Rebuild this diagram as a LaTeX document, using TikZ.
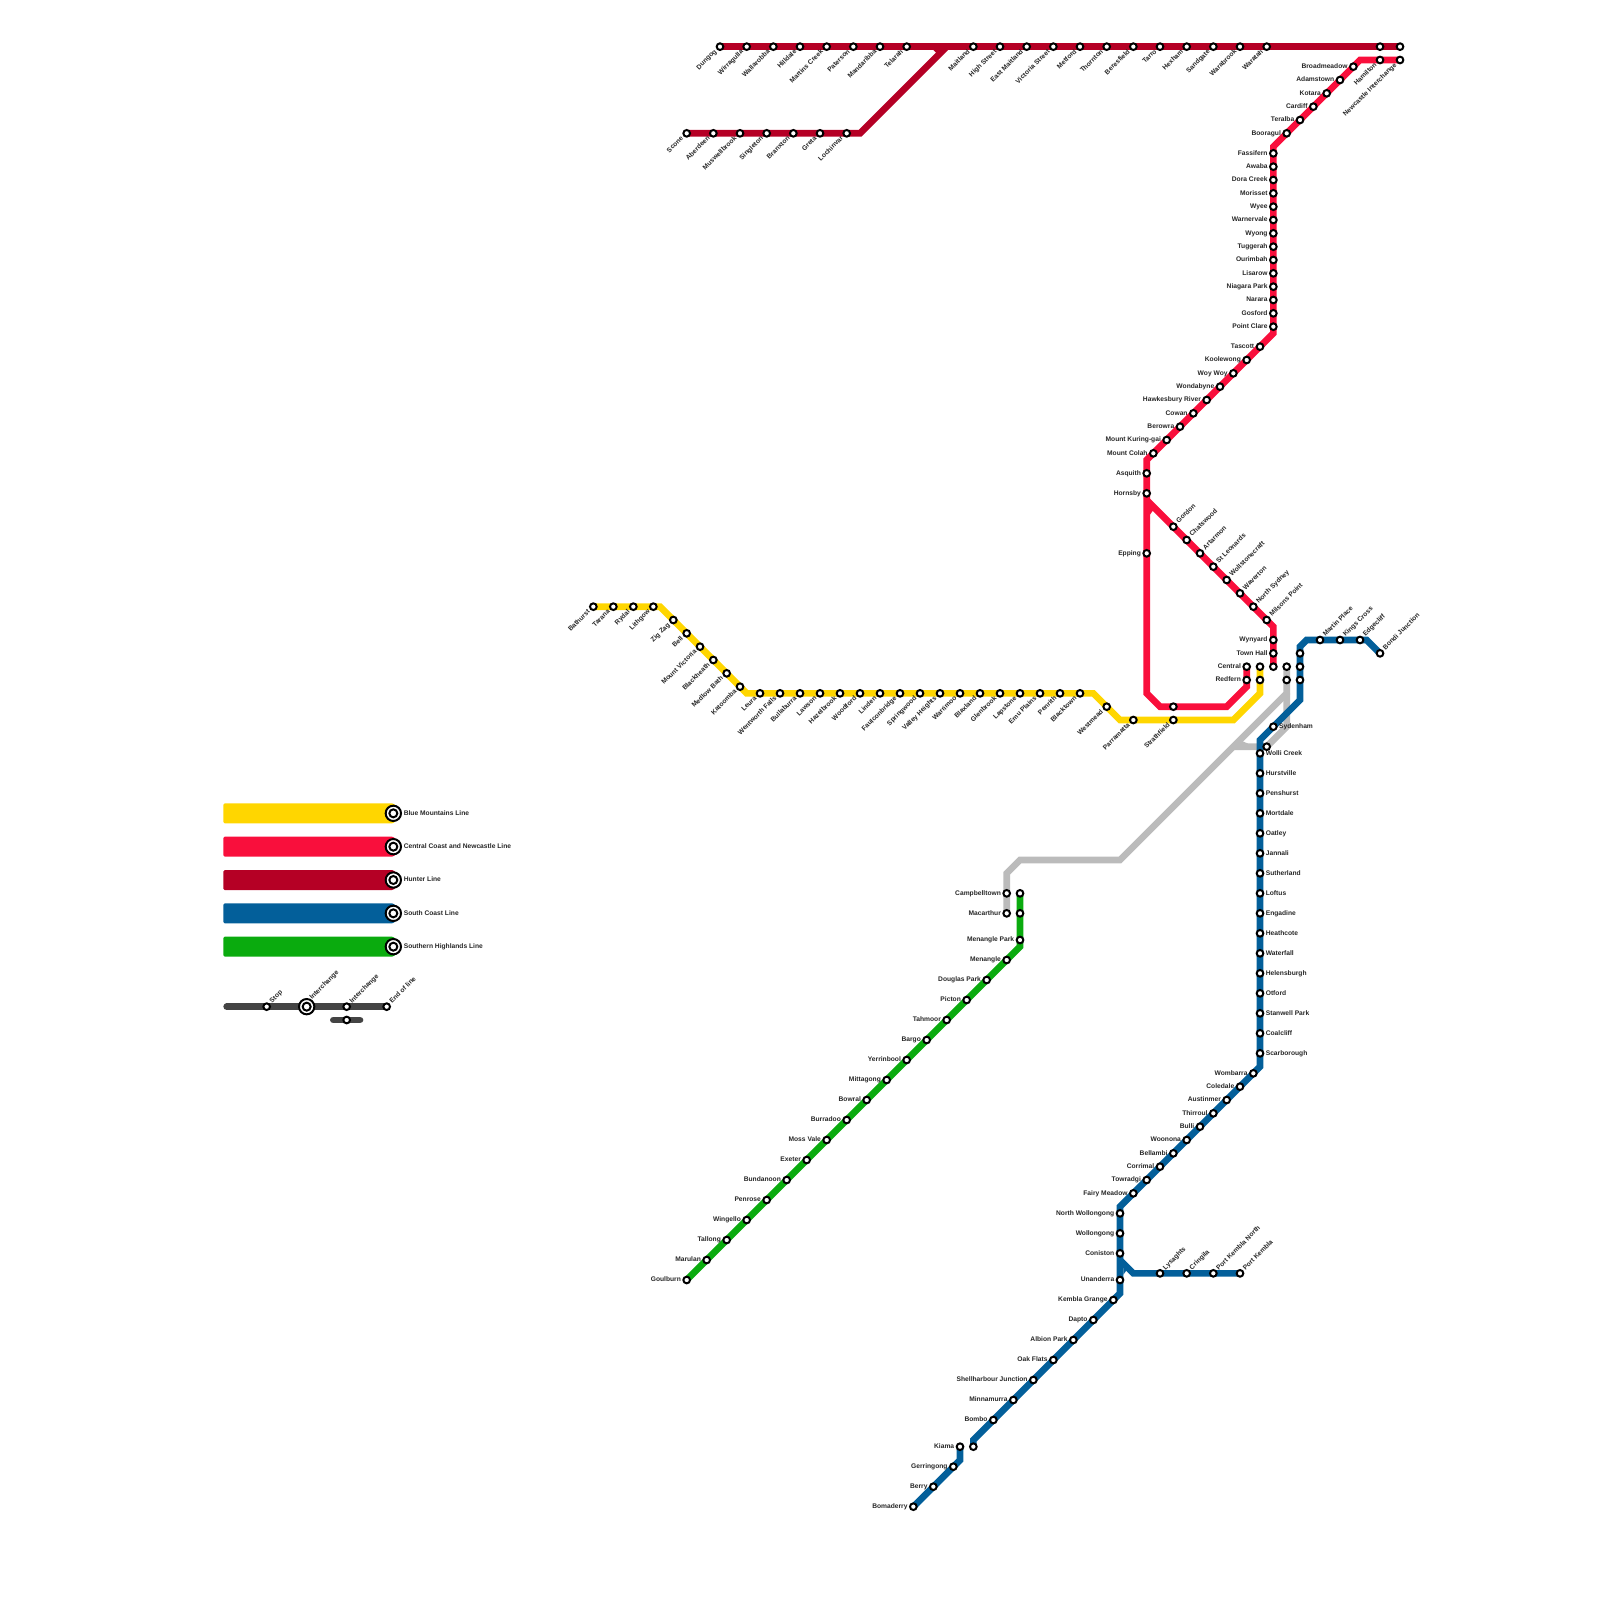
\documentclass[tikz,border=0pt]{standalone}
\usepackage{fontspec}
\setmainfont{Liberation Sans}
\usepackage{xcolor}
\definecolor{amarelo}{RGB}{255,214,0}
\definecolor{vermelho}{RGB}{249,15,60}
\definecolor{carmim}{RGB}{181,0,37}
\definecolor{azul}{RGB}{3,95,154}
\definecolor{verde}{RGB}{10,171,14}
\definecolor{cinza}{RGB}{187,187,187}
\definecolor{escuro}{RGB}{68,68,68}
\usetikzlibrary{backgrounds}

\begin{document}
\begin{tikzpicture}[
    x=0.2cm, y=-0.2cm,
    stop/.style={circle, draw=black, fill=white, line width=0.03cm,
                 minimum size=0.1cm, inner sep=0pt},
    bigstop/.style={circle, draw=black, fill=white, line width=0.03cm,
                    minimum size=0.23cm, inner sep=0pt},
    midstop/.style={circle, draw=black, fill=white, line width=0.03cm,
                    minimum size=0.12cm, inner sep=0pt},
    lbl/.style={font=\fontsize{2.85}{3.3}\selectfont\bfseries, text=black!85,
                inner sep=0pt, text height=2pt, text depth=0.55pt},
    lblw/.style={lbl, anchor=east, xshift=-0.08cm},
    lble/.style={lbl, anchor=west, xshift=0.08cm},
    lblsw/.style={lbl, anchor=east, xshift=-0.06cm, yshift=-0.06cm, rotate=45},
    lblne/.style={lbl, anchor=west, xshift=0.06cm, yshift=0.06cm, rotate=45},
    lblleg/.style={lbl, anchor=west, xshift=0.15cm},
    linha/.style={line width=0.1cm},
    sample/.style={linha, escuro, line cap=round}
  ]

  \useasboundingbox (0,0) rectangle (120,120);

  % Hunter
  \foreach \n/\x/\t in {dungog/54/Dungog, wirragulla/56/Wirragulla, wallarobba/58/Wallarobba,
      hilldale/60/Hilldale, martins/62/Martins Creek, paterson/64/Paterson,
      mandaribba/66/Mandaribba, telarah/68/Telarah, maitland/73/Maitland,
      highst/75/High Street, eastmaitland/77/East Maitland, victoriast/79/Victoria Street,
      metford/81/Metford, thornton/83/Thornton, beresfield/85/Beresfield, tarro/87/Tarro,
      hexham/89/Hexham, sandgate/91/Sandgate, warabrook/93/Warabrook, waratah/95/Waratah} {
    \node[stop] (\n) at (\x,3.5) {};
    \node[lblsw] (\n-l) at (\n) {\t};
  }
  \foreach \n/\x/\t in {scone/51.5/Scone, aberdeen/53.5/Aberdeen, muswellbrook/55.5/Muswellbrook,
      singleton/57.5/Singleton, branxton/59.5/Branxton, greta/61.5/Greta,
      lochinvar/63.5/Lochinvar} {
    \node[stop] (\n) at (\x,10) {};
    \node[lblsw] (\n-l) at (\n) {\t};
  }
  \node[stop] (hamiltonh) at (103.5,3.5) {};
  \node[stop] (newcastleh) at (105,3.5) {};
  \coordinate (hbend) at (64.5,10);
  \coordinate (hjoin) at (71,3.5);

  % Central Coast and Newcastle
  \node[stop] (hamilton) at (103.5,4.5) {};
  \node[lblsw] (hamilton-l) at (hamilton) {Hamilton};
  \node[stop] (newcastle) at (105,4.5) {};
  \node[lblsw] (newcastle-l) at (newcastle) {Newcastle Interchange};
  \foreach \n/\x/\y/\t in {broadmeadow/101.5/5/Broadmeadow, adamstown/100.5/6/Adamstown,
      kotara/99.5/7/Kotara, cardiff/98.5/8/Cardiff, teralba/97.5/9/Teralba, booragul/96.5/10/Booragul,
      fassifern/95.5/11.5/Fassifern, awaba/95.5/12.5/Awaba, doracreek/95.5/13.5/Dora Creek,
      morisset/95.5/14.5/Morisset, wyee/95.5/15.5/Wyee, warnervale/95.5/16.5/Warnervale,
      wyong/95.5/17.5/Wyong, tuggerah/95.5/18.5/Tuggerah, ourimbah/95.5/19.5/Ourimbah,
      lisarow/95.5/20.5/Lisarow, niagara/95.5/21.5/Niagara Park, narara/95.5/22.5/Narara,
      gosford/95.5/23.5/Gosford, pointclare/95.5/24.5/Point Clare, tascott/94.5/26/Tascott,
      koolewong/93.5/27/Koolewong, woywoy/92.5/28/Woy Woy, wondabyne/91.5/29/Wondabyne,
      hawkesbury/90.5/30/Hawkesbury River, cowan/89.5/31/Cowan, berowra/88.5/32/Berowra,
      kuringgai/87.5/33/Mount Kuring-gai, colah/86.5/34/Mount Colah, asquith/86/35.5/Asquith,
      hornsby/86/37/Hornsby, epping/86/41.5/Epping, wynyard/95.5/48/Wynyard,
      townhall/95.5/49/Town Hall, central/93.5/50/Central, redfern/93.5/51/Redfern} {
    \node[stop] (\n) at (\x,\y) {};
    \node[lblw] (\n-l) at (\n) {\t};
  }
  \foreach \n/\x/\y/\t in {gordon/88/39.5/Gordon, chatswood/89/40.5/Chatswood, artarmon/90/41.5/Artarmon,
      stleonards/91/42.5/St Leonards, wollstonecraft/92/43.5/Wollstonecraft, waverton/93/44.5/Waverton,
      northsydney/94/45.5/North Sydney, milsons/95/46.5/Milsons Point} {
    \node[stop] (\n) at (\x,\y) {};
    \node[lblne] (\n-l) at (\n) {\t};
  }
  \node[stop] (sydney) at (95.5,50) {};
  \node[stop] (strathr) at (88,53) {};
  \coordinate (rbend1) at (102,4.5);
  \coordinate (rbend2) at (95.5,11);
  \coordinate (rbend3) at (95.5,25);
  \coordinate (rbend4) at (86,34.5);
  \coordinate (rbend5) at (86,52);
  \coordinate (rbend6) at (87,53);
  \coordinate (rbend7) at (92,53);
  \coordinate (rbend8) at (93.5,51.5);
  \coordinate (rjoin) at (86,37.5);
  \coordinate (rbend9) at (95.5,47);

  % Blue Mountains
  \foreach \n/\x/\y/\t in {bathurst/44.5/45.5/Bathurst, tarana/46/45.5/Tarana, rydal/47.5/45.5/Rydal,
      lithgow/49/45.5/Lithgow, zigzag/50.5/46.5/Zig Zag, bell/51.5/47.5/Bell,
      mtvictoria/52.5/48.5/Mount Victoria, blackheath/53.5/49.5/Blackheath,
      medlow/54.5/50.5/Medlow Bath, katoomba/55.5/51.5/Katoomba, leura/57/52/Leura,
      wentworth/58.5/52/Wentworth Falls, bullaburra/60/52/Bullaburra, lawson/61.5/52/Lawson,
      hazelbrook/63/52/Hazelbrook, woodford/64.5/52/Woodford, linden/66/52/Linden,
      faulconbridge/67.5/52/Faulconbridge, springwood/69/52/Springwood,
      valley/70.5/52/Valley Heights, warrimoo/72/52/Warrimoo, blaxland/73.5/52/Blaxland,
      glenbrook/75/52/Glenbrook, lapstone/76.5/52/Lapstone, emuplains/78/52/Emu Plains,
      penrith/79.5/52/Penrith, blacktown/81/52/Blacktown, westmead/83/53/Westmead,
      parramatta/85/54/Parramatta, strathfield/88/54/Strathfield} {
    \node[stop] (\n) at (\x,\y) {};
    \node[lblsw] (\n-l) at (\n) {\t};
  }
  \node[stop] (centraly) at (94.5,50) {};
  \node[stop] (redferny) at (94.5,51) {};
  \coordinate (ybend1) at (49.5,45.5);
  \coordinate (ybend2) at (56,52);
  \coordinate (ybend3) at (82,52);
  \coordinate (ybend4) at (84,54);
  \coordinate (ybend5) at (92.5,54);
  \coordinate (ybend6) at (94.5,52);

  % South Coast
  \foreach \n/\x/\y/\t in {sydenham/95.5/54.5/Sydenham, wolli/94.5/56.5/Wolli Creek, hurstville/94.5/58/Hurstville,
      penshurst/94.5/59.5/Penshurst, mortdale/94.5/61/Mortdale, oatley/94.5/62.5/Oatley,
      jannali/94.5/64/Jannali, sutherland/94.5/65.5/Sutherland, loftus/94.5/67/Loftus,
      engadine/94.5/68.5/Engadine, heathcote/94.5/70/Heathcote, waterfall/94.5/71.5/Waterfall,
      helensburgh/94.5/73/Helensburgh, otford/94.5/74.5/Otford, stanwell/94.5/76/Stanwell Park,
      coalcliff/94.5/77.5/Coalcliff, scarborough/94.5/79/Scarborough} {
    \node[stop] (\n) at (\x,\y) {};
    \node[lble] (\n-l) at (\n) {\t};
  }
  \foreach \n/\x/\y/\t in {wombarra/94/80.5/Wombarra, coledale/93/81.5/Coledale, austinmer/92/82.5/Austinmer,
      thirroul/91/83.5/Thirroul, bulli/90/84.5/Bulli, woonona/89/85.5/Woonona, bellambi/88/86.5/Bellambi,
      corrimal/87/87.5/Corrimal, towradgi/86/88.5/Towradgi, fairy/85/89.5/Fairy Meadow,
      nwollongong/84/91/North Wollongong, wollongong/84/92.5/Wollongong, coniston/84/94/Coniston,
      unanderra/84/96/Unanderra, kembla/83.5/97.5/Kembla Grange, dapto/82/99/Dapto,
      albion/80.5/100.5/Albion Park, oakflats/79/102/Oak Flats, shellharbour/77.5/103.5/Shellharbour Junction,
      minnamurra/76/105/Minnamurra, bombo/74.5/106.5/Bombo, kiama/72/108.5/Kiama,
      gerringong/71.5/110/Gerringong, berry/70/111.5/Berry, bomaderry/68.5/113/Bomaderry} {
    \node[stop] (\n) at (\x,\y) {};
    \node[lblw] (\n-l) at (\n) {\t};
  }
  \foreach \n/\x/\y/\t in {lysaghts/87/95.5/Lysaghts, cringila/89/95.5/Cringila, pkn/91/95.5/Port Kembla North,
      portkembla/93/95.5/Port Kembla, martin/99/48/Martin Place, kings/100.5/48/Kings Cross,
      edgecliff/102/48/Edgecliff, bondi/103.5/49/Bondi Junction} {
    \node[stop] (\n) at (\x,\y) {};
    \node[lblne] (\n-l) at (\n) {\t};
  }
  \node[stop] (stjames) at (97.5,49) {};
  \node[stop] (museum) at (97.5,50) {};
  \node[stop] (redfernb) at (97.5,51) {};
  \node[stop] (kiamab) at (73,108.5) {};
  \coordinate (bbend1) at (102.5,48);
  \coordinate (bbend2) at (98,48);
  \coordinate (bbend3) at (97.5,48.5);
  \coordinate (bbend4) at (97.5,52.5);
  \coordinate (bbend5) at (94.5,55.5);
  \coordinate (bbend6) at (94.5,80);
  \coordinate (bbend7) at (84,90.5);
  \coordinate (bbend8) at (84,97);
  \coordinate (bbend9) at (73,108);
  \coordinate (bbend10) at (72,109.5);
  \coordinate (bjoin) at (84,94.5);
  \coordinate (bbend11) at (85,95.5);

  % Southern Highlands
  \foreach \n/\x/\y/\t in {campbelltown/75.5/67/Campbelltown, macarthur/75.5/68.5/Macarthur,
      menanglepk/76.5/70.5/Menangle Park, menangle/75.5/72/Menangle, douglas/74/73.5/Douglas Park,
      picton/72.5/75/Picton, tahmoor/71/76.5/Tahmoor, bargo/69.5/78/Bargo, yerrinbool/68/79.5/Yerrinbool,
      mittagong/66.5/81/Mittagong, bowral/65/82.5/Bowral, burradoo/63.5/84/Burradoo,
      mossvale/62/85.5/Moss Vale, exeter/60.5/87/Exeter, bundanoon/59/88.5/Bundanoon,
      penrose/57.5/90/Penrose, wingello/56/91.5/Wingello, tallong/54.5/93/Tallong,
      marulan/53/94.5/Marulan, goulburn/51.5/96/Goulburn} {
    \node[stop] (\n) at (\x,\y) {};
    \node[lblw] (\n-l) at (\n) {\t};
  }
  \node[stop] (campbellg) at (76.5,67) {};
  \node[stop] (macarthurg) at (76.5,68.5) {};
  \coordinate (gbend) at (76.5,71);

  % grey
  \node[stop] (centralc) at (96.5,50) {};
  \node[stop] (redfernc) at (96.5,51) {};
  \node[stop] (turrella) at (95,56) {};
  \coordinate (cbend1) at (75.5,65.5);
  \coordinate (cbend2) at (76.5,64.5);
  \coordinate (cbend3) at (84,64.5);
  \coordinate (cbend4) at (96.5,52);
  \coordinate (cbend5) at (96.5,54.5);
  \coordinate (cjoin) at (92.5,56);
  \coordinate (cstub1) at (92.8,55.7);
  \coordinate (cstub2) at (93.5,56);

  % legend
  \foreach \n/\y/\c/\t in {leg1/61/amarelo/Blue Mountains Line, leg2/63.5/vermelho/Central Coast and Newcastle Line,
      leg3/66/carmim/Hunter Line, leg4/68.5/azul/South Coast Line, leg5/71/verde/Southern Highlands Line} {
    \fill[\c, rounded corners=0.6pt] (16.75,\y-0.75) -- (29.5,\y-0.75) -- (29.85,\y-0.4) -- (29.85,\y+0.4)
      -- (29.5,\y+0.75) -- (16.75,\y+0.75) -- cycle;
    \node[bigstop] (\n) at (29.5,\y) {};
    \node[midstop] (\n-i) at (\n) {};
    \node[lblleg] (\n-l) at (\n) {\t};
  }

  \node[stop] (sstop) at (20,75.5) {};
  \node[lblne] (sstop-l) at (sstop) {Stop};
  \node[bigstop] (sint) at (23,75.5) {};
  \node[midstop] (sint-i) at (sint) {};
  \node[lblne, xshift=0.04cm, yshift=0.04cm] (sint-l) at (sint) {Interchange};
  \node[stop] (sint2) at (26,75.5) {};
  \node[lblne] (sint2-l) at (sint2) {Interchange};
  \node[stop] (send) at (29,75.5) {};
  \node[lblne] (send-l) at (send) {End of line};
  \node[stop] (sint3) at (26,76.5) {};
  \coordinate (sstart) at (17,75.5);
  \coordinate (sleft) at (25,76.5);
  \coordinate (sright) at (27,76.5);

  \begin{scope}[on background layer]
    \draw[linha, cinza] (macarthur.center) -- (cbend1) -- (cbend2) -- (cbend3) -- (cbend4) -- (centralc.center);
    \draw[linha, cinza] (cjoin) -- (turrella.center) -- (cbend5) -- (cbend4);
    \draw[linha, cinza] (cstub1) -- (cstub2);

    \draw[linha, amarelo] (bathurst.center) -- (ybend1) -- (ybend2) -- (ybend3) -- (ybend4) -- (ybend5)
      -- (ybend6) -- (centraly.center);

    \draw[linha, vermelho] (newcastle.center) -- (rbend1) -- (rbend2) -- (rbend3) -- (rbend4) -- (rbend5)
      -- (rbend6) -- (rbend7) -- (rbend8) -- (central.center);
    \draw[linha, vermelho] (rjoin) -- (rbend9) -- (sydney.center);
    \fill[vermelho] (86.25,38) -- (86.5,38.25) -- (86.25,38.6) -- cycle;

    \draw[linha, carmim] (dungog.center) -- (newcastleh.center);
    \draw[linha, carmim] (scone.center) -- (hbend) -- (hjoin);
    \fill[carmim] (70,3.75) -- (70.25,4) -- (70.5,3.75) -- cycle;

    \draw[linha, azul] (bondi.center) -- (bbend1) -- (bbend2) -- (bbend3) -- (bbend4) -- (bbend5)
      -- (bbend6) -- (bbend7) -- (bbend8) -- (bbend9) -- (kiamab.center);
    \draw[linha, azul] (kiama.center) -- (bbend10) -- (bomaderry.center);
    \draw[linha, azul] (bjoin) -- (bbend11) -- (portkembla.center);
    \fill[azul] (84.25,95) -- (84.5,95.25) -- (84.25,95.6) -- cycle;

    \draw[linha, verde] (campbellg.center) -- (gbend) -- (goulburn.center);

    \draw[sample] (sstart) -- (send.center);
    \draw[sample] (sleft) -- (sright);
  \end{scope}

\end{tikzpicture}
\end{document}
